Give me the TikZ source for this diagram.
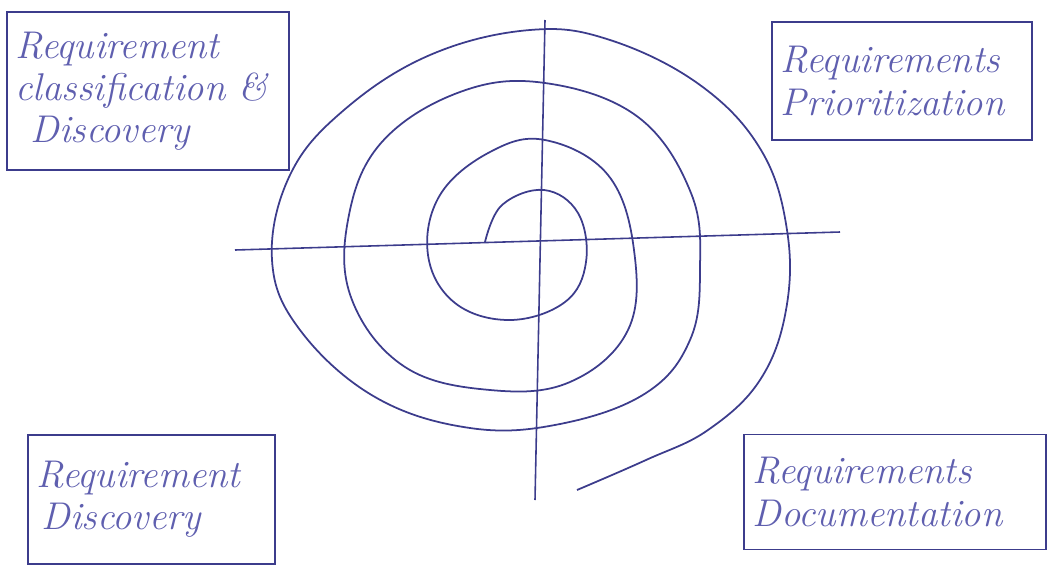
\documentclass[tikz,border=0pt]{standalone}
\usepackage{xcolor}
\definecolor{inkblue}{RGB}{60,60,140}
\definecolor{penblue}{RGB}{95,95,175}
\usetikzlibrary{positioning}

\begin{document}
\begin{tikzpicture}[
    stage/.style={rectangle, draw=inkblue, line width=1pt, align=left, text=penblue,
      font=\fontsize{22}{24}\selectfont\itshape, inner sep=5pt},
    axis/.style={draw=inkblue, line width=0.9pt},
    spiral/.style={draw=inkblue, line width=1pt, line join=round}
  ]
    \useasboundingbox (0,0) rectangle (21.04,-11.28);
    % Stage boxes
    \node[stage, minimum width=5.6cm, minimum height=3.16cm, text width=5.3cm] (clsf) at (2.96,-1.82)
      {Requirement\\classification \&\\\hspace*{0.3cm}Discovery};
    \node[stage, minimum width=5.1cm, minimum height=2.36cm, text width=4.85cm] (prio) at (18.04,-1.62)
      {Requirements\\Prioritization};
    \node[stage, minimum width=4.94cm, minimum height=2.58cm, text width=4.6cm] (disc) at (3.03,-9.99)
      {Requirement\\\hspace*{0.1cm}Discovery};
    \node[stage, minimum width=6.0cm, minimum height=2.3cm, text width=5.7cm] (docu) at (17.9,-9.84)
      {Requirements\\Documentation};
    % Axes
    \coordinate (west) at (4.70,-5.00);
    \coordinate (east) at (16.80,-4.64);
    \coordinate (north) at (10.90,-0.40);
    \coordinate (south) at (10.70,-10.00);
    \draw[axis] (west) -- (east);
    \draw[axis] (north) -- (south);
    % Spiral, from the centre outwards
    \draw[spiral] plot[smooth, tension=0.65] coordinates {
      (9.70,-4.84) (10.04,-4.10) (10.88,-3.80) (11.56,-4.26) (11.72,-5.24)
      (11.30,-6.04) (10.20,-6.40) (9.10,-6.06) (8.56,-5.10) (8.80,-3.90)
      (9.80,-3.04) (10.90,-2.80) (12.16,-3.50) (12.68,-5.00) (12.56,-6.60)
      (11.40,-7.64) (9.80,-7.80) (8.10,-7.34) (7.04,-6.00) (6.96,-4.40)
      (7.62,-2.86) (9.20,-1.84) (10.90,-1.66) (12.76,-2.34) (13.82,-3.86)
      (14.00,-5.40) (13.80,-6.80) (12.92,-7.86) (11.20,-8.48) (9.40,-8.56)
      (7.50,-7.94) (6.00,-6.60) (5.44,-5.20) (5.80,-3.50) (6.88,-2.20)
      (8.60,-1.10) (10.60,-0.60) (12.20,-0.80) (14.00,-1.70) (15.22,-3.00)
      (15.74,-4.60) (15.72,-6.20) (15.20,-7.60) (14.16,-8.60) (12.92,-9.20)
      (11.54,-9.80)
    };
\end{tikzpicture}
\end{document}
